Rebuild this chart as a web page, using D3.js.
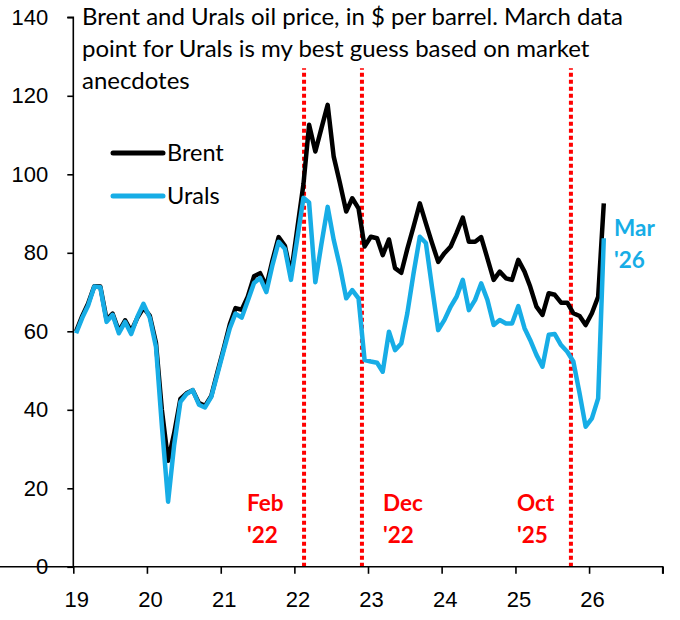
<!DOCTYPE html>
<html>
<head>
<meta charset="utf-8">
<script src="https://cdn.jsdelivr.net/npm/d3@7"></script>
<style>
  body { margin: 0; background: #fff; }
  svg { font-family: Lato, 'Open Sans', sans-serif; }
  .tick text { font-size: 22px; fill: #000; }
  .title { font-size: 24px; fill: #000; }
  .legend-label { font-size: 23.5px; fill: #000; }
  .event-label { font-size: 22.5px; font-weight: bold; fill: #ff0000; }
  .end-label { font-size: 22.5px; font-weight: bold; fill: #17ade6; }
</style>
</head>
<body>
<svg width="680" height="620"></svg>
<script>
// monthly averages, Jan 2019 .. Mar 2026
const brent = [
  60.0, 64.0, 67.0, 71.5, 71.4, 63.0, 64.5, 60.0, 62.8, 60.0, 63.5, 66.0,
  64.0, 57.0, 40.0, 27.0, 34.0, 42.8, 44.2, 45.0, 41.7, 41.0, 43.5, 49.5,
  55.5, 61.8, 65.9, 65.5, 68.8, 74.0, 74.8, 71.5, 78.2, 84.0, 81.8, 74.5,
  86.0, 97.5, 112.6, 105.8, 111.7, 117.7, 104.5, 97.7, 90.5, 93.9, 91.3, 81.6,
  84.1, 83.7, 79.4, 83.4, 76.1, 74.9, 81.0, 86.7, 92.6, 87.5, 82.4, 77.7,
  79.9, 81.6, 85.0, 89.0, 82.8, 82.8, 84.0, 78.6, 73.1, 75.2, 73.5, 73.1,
  78.2, 75.2, 71.4, 66.3, 64.2, 69.7, 69.3, 67.3, 67.3, 64.6, 63.9, 61.6,
  64.6, 68.8, 92.6
];

const urals = [
  59.5, 63.5, 66.5, 71.4, 71.2, 62.4, 64.2, 59.5, 62.4, 59.3, 63.7, 67.0,
  63.5, 56.0, 36.0, 16.6, 31.0, 42.0, 44.0, 45.0, 41.3, 40.6, 43.3, 49.0,
  55.0, 60.8, 64.5, 63.5, 67.8, 72.3, 73.6, 70.0, 77.0, 82.8, 81.0, 73.1,
  83.5, 94.0, 92.8, 72.5, 82.2, 91.7, 83.3, 76.5, 68.4, 70.5, 68.4, 52.7,
  52.3, 52.0, 49.7, 59.9, 55.2, 56.9, 64.6, 74.8, 84.1, 82.5, 71.0, 60.3,
  62.9, 66.3, 68.8, 73.1, 65.4, 68.0, 72.2, 68.0, 61.6, 62.9, 62.0, 62.0,
  66.4, 60.8, 57.8, 54.0, 51.0, 59.1, 59.3, 56.5, 54.8, 52.3, 44.2, 35.7,
  37.8, 42.9, 83.7
];

const months = brent.map((d, i) => new Date(2019, i, 15));

const events = [
  {date: new Date(2022, 1, 18), lines: ['Feb', "'22"], labelX: 247},
  {date: new Date(2022, 11, 2), lines: ['Dec', "'22"], labelX: 383},
  {date: new Date(2025, 9, 3), lines: ['Oct', "'25"], labelX: 517}
];

const titleLines = [
  'Brent and Urals oil price, in $ per barrel. March data',
  'point for Urals is my best guess based on market',
  'anecdotes'
];

const svg = d3.select('svg');

const xScale = d3.scaleTime()
  .domain([new Date(2019, 0, 1), new Date(2027, 0, 1)])
  .range([73.3, 662.7]);

const yScale = d3.scaleLinear()
  .domain([0, 140])
  .range([566.8, 17.3]);

const g = svg.append('g');

// event markers
g.selectAll('.event')
  .data(events)
  .enter().append('line')
    .attr('x1', d => xScale(d.date))
    .attr('x2', d => xScale(d.date))
    .attr('y1', yScale(0))
    .attr('y2', yScale(127))
    .attr('stroke', '#ff0000')
    .attr('stroke-width', 4)
    .attr('stroke-dasharray', '4,3');

events.forEach(e => {
  const t = g.append('text').attr('class', 'event-label');
  e.lines.forEach((l, k) => {
    t.append('tspan')
      .attr('x', e.labelX)
      .attr('y', 511 + k * 32)
      .text(l);
  });
});

// axes
const xAxis = d3.axisBottom(xScale)
  .ticks(d3.timeYear.every(1))
  .tickFormat(d => d.getFullYear() < 2027 ? d3.timeFormat('%y')(d) : '')
  .tickSize(7)
  .tickPadding(18);

const xAxisG = g.append('g')
  .attr('transform', `translate(0, ${yScale(0)})`)
  .call(xAxis);
xAxisG.selectAll('.tick text').attr('dx', 3);

const yAxis = d3.axisLeft(yScale)
  .tickValues(d3.range(0, 141, 20))
  .tickSize(6)
  .tickPadding(19);

const yAxisG = g.append('g')
  .attr('transform', `translate(${xScale.range()[0]}, 0)`)
  .call(yAxis);

[xAxisG, yAxisG].forEach(a => {
  a.select('.domain').attr('stroke', '#000').attr('stroke-width', 1.6);
  a.selectAll('.tick line').attr('stroke', '#000').attr('stroke-width', 1.6);
});
yAxisG.select('.domain').attr('d', `M-6,${yScale(140)}H0V${yScale(0)}`);
xAxisG.select('.domain').attr('d', `M0,0H${xScale.range()[1]}V7`);

// series
const line = values => d3.line()
  .x((d, i) => xScale(months[i]))
  .y(d => yScale(d))(values);

g.append('path')
  .attr('d', line(brent))
  .attr('fill', 'none')
  .attr('stroke', '#000')
  .attr('stroke-width', 4.5)
  .attr('stroke-linejoin', 'round');

g.append('path')
  .attr('d', line(urals))
  .attr('fill', 'none')
  .attr('stroke', '#17ade6')
  .attr('stroke-width', 4.5)
  .attr('stroke-linejoin', 'round');

// end label
const endT = g.append('text').attr('class', 'end-label');
['Mar', "'26"].forEach((l, k) => {
  endT.append('tspan')
    .attr('x', 614)
    .attr('y', 236 + k * 32)
    .text(l);
});

// title
const title = g.append('text').attr('class', 'title');
titleLines.forEach((l, k) => {
  title.append('tspan')
    .attr('x', 82)
    .attr('y', 25 + k * 32)
    .text(l);
});

// legend
const legend = [
  {name: 'Brent', color: '#000', y: 153},
  {name: 'Urals', color: '#17ade6', y: 196}
];
legend.forEach(d => {
  g.append('line')
    .attr('x1', 113).attr('x2', 163)
    .attr('y1', d.y).attr('y2', d.y)
    .attr('stroke', d.color)
    .attr('stroke-width', 5)
    .attr('stroke-linecap', 'round');
  g.append('text')
    .attr('class', 'legend-label')
    .attr('x', 167)
    .attr('y', d.y + 8)
    .text(d.name);
});
</script>
</body>
</html>
